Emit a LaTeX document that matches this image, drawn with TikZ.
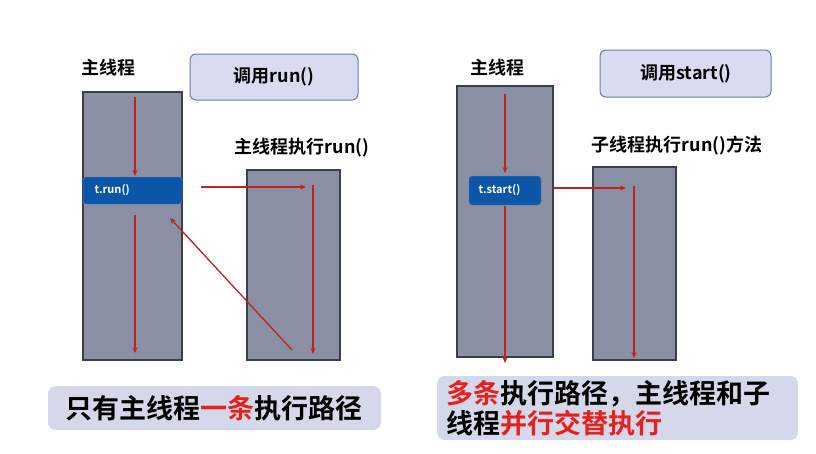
\documentclass[tikz,border=0pt]{standalone}
\usepackage{fontspec}
\setmainfont{Noto Sans CJK SC}[BoldFont={* Bold}]
\usetikzlibrary{arrows.meta}
\definecolor{colfill}{HTML}{8A8FA3}
\definecolor{colline}{HTML}{3A3F4A}
\definecolor{callfill}{HTML}{D9DCF0}
\definecolor{callline}{HTML}{6A7AB0}
\definecolor{tblue}{HTML}{0B56A8}
\definecolor{arr}{HTML}{C0231E}
\definecolor{noteFill}{HTML}{D5D8EA}
\definecolor{redt}{HTML}{E8201A}
\begin{document}
\begin{tikzpicture}[x=1pt,y=-1pt,
  col/.style={draw=colline,line width=1.2pt,fill=colfill},
  callbox/.style={draw=callline,line width=1pt,fill=callfill,rounded corners=6pt},
  tbox/.style={fill=tblue,draw=tblue!70!white,rounded corners=3pt},
  ttxt/.style={text=white,font=\bfseries\fontsize{11}{12}\selectfont,anchor=west},
  lbl/.style={font=\bfseries\fontsize{18}{20}\selectfont},
  flow/.style={draw=arr,line width=1.3pt,-{Stealth[length=6pt,width=5pt]}},
  note/.style={fill=noteFill,rounded corners=8pt},
  notetxt/.style={font=\bfseries\fontsize{27}{30}\selectfont,align=left}]
\useasboundingbox (0,0) rectangle (816,453);
\fill[white] (0,0) rectangle (816,453);
% Left
\node[lbl] (lm) at (108,68) {主线程};
\draw[callbox] (190,54) rectangle (358,100);
\node[lbl] (lc) at (274,77) {调用run()};
\draw[col] (83,92) rectangle (182,360);
\draw[col] (247,170) rectangle (340,360);
\node[lbl] (lr) at (302,148) {主线程执行run()};
\draw[tbox] (83,177) rectangle (182,204);
\node[ttxt] (lt) at (91,190) {t.run()};
\coordinate (a1) at (135,97); \coordinate (a2) at (135,176);
\coordinate (a3) at (135,215); \coordinate (a4) at (135,353);
\coordinate (h1) at (201,187); \coordinate (h2) at (306,187);
\coordinate (v1) at (313,185); \coordinate (v2) at (313,354);
\coordinate (d1) at (292,350); \coordinate (d2) at (170,218);
\draw[flow] (a1) -- (a2);
\draw[flow] (a3) -- (a4);
\draw[flow] (h1) -- (h2);
\draw[flow] (v1) -- (v2);
\draw[flow] (d1) -- (d2);
\fill[note] (48,386) rectangle (381,430);
\node[notetxt] (ln) at (214,408) {只有主线程\textcolor{redt}{一条}执行路径};
% Right
\node[lbl] (rm) at (497,68) {主线程};
\draw[callbox] (600,50) rectangle (771,97);
\node[lbl] (rc) at (686,74) {调用start()};
\draw[col] (457,86) rectangle (553,357);
\draw[col] (593,167) rectangle (676,360);
\node[lbl] (rr) at (677,146) {子线程执行run()方法};
\draw[flow] (505,94) -- (505,173);
\draw[tbox] (469,176) rectangle (541,205);
\node[ttxt] (rt) at (475,190) {t.start()};
\draw[flow] (505,206) -- (505,363);
\coordinate (rh1) at (553,188); \coordinate (rh2) at (626,188);
\coordinate (rv1) at (634,186); \coordinate (rv2) at (634,358);
\draw[flow] (rh1) -- (rh2);
\draw[flow] (rv1) -- (rv2);
\fill[note] (437,376) rectangle (798,440);
\node[notetxt,anchor=west] (rn) at (443,408) {\textcolor{redt}{多条}执行路径，主线程和子\\线程\textcolor{redt}{并行交替执行}};
\end{tikzpicture}
\end{document}
